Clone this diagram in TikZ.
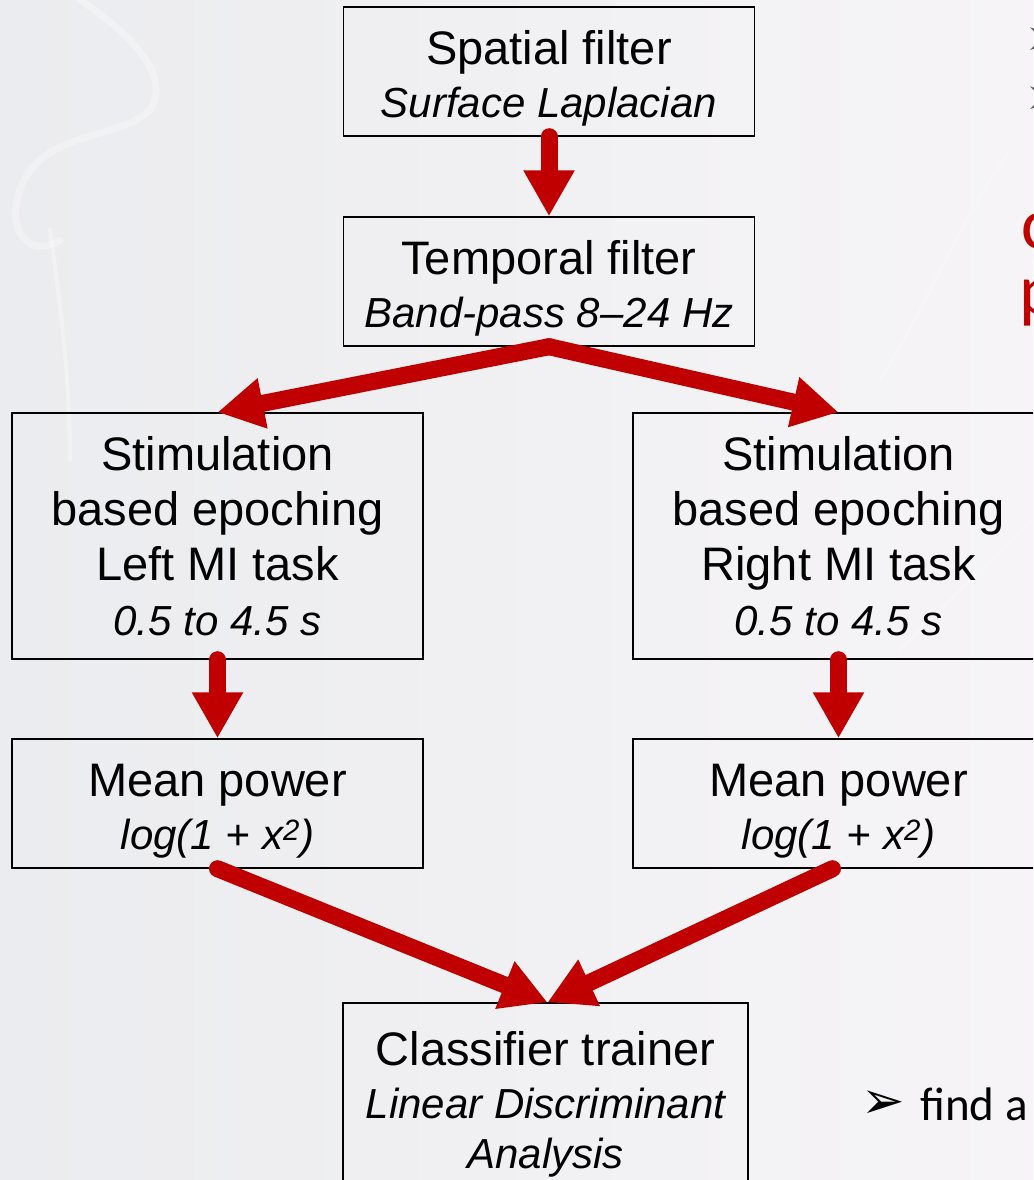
\documentclass[tikz,border=0pt]{standalone}
\usepackage{fontspec}
\setmainfont{Liberation Sans}
\newfontfamily\dejavufont{DejaVu Sans}
\newfontfamily\carlitofont{Carlito}
\usetikzlibrary{arrows.meta,calc}
\definecolor{arrowred}{HTML}{C00000}
\definecolor{bgleft}{HTML}{EBECEF}
\definecolor{bgright}{HTML}{F6F4F6}
\definecolor{bulletgrey}{HTML}{555555}
\newcommand\subtxt[1]{{\fontsize{42}{55}\selectfont\itshape #1}}
\newcommand\topstrut{\rule{0pt}{48pt}}
\begin{document}
\begin{tikzpicture}[x=1pt,y=-1pt,
  box/.style={draw=black, line width=1.4pt, inner sep=0pt, align=center,
    minimum width=411pt, font=\fontsize{47}{55}\selectfont},
  flow/.style={draw=arrowred, line width=17pt, line cap=round,
    -{Triangle[width=48pt,length=46pt]}},
  swirl/.style={draw=white, opacity=0.3, line width=7pt, line cap=round}]
\path[use as bounding box] (0,0) rectangle (1033,1180);
\clip (0,0) rectangle (1033,1180);
\shade[left color=bgleft, right color=bgright] (0,0) rectangle (1033,1180);
% faint background texture
\draw[swirl] (80,0) .. controls (140,40) and (170,80) .. (150,110) .. controls (120,140) and (40,130) .. (20,190) .. controls (5,230) and (30,260) .. (60,240);
\draw[swirl, line width=4pt] (50,230) .. controls (60,300) and (70,380) .. (70,460);
\draw[swirl, line width=3pt, opacity=0.2] (880,380) .. controls (930,300) and (960,220) .. (1010,150);
\draw[swirl, line width=3pt, opacity=0.2] (900,650) .. controls (950,600) and (990,560) .. (1033,520);

% boxes
\node[box, minimum height=129pt] (spatial) at (549,71.5) {\topstrut Spatial filter\\[-2pt] \subtxt{Surface Laplacian}};
\node[box, minimum height=129pt] (temporal) at (549,281.5) {\topstrut Temporal filter\\[-2pt] \subtxt{Band-pass 8–24 Hz}};
\node[box, minimum height=246pt] (lstim) at (217.5,536) {Stimulation\\ based epoching\\ Left MI task\\ \subtxt{0.5 to 4.5 s}};
\node[box, minimum height=246pt] (rstim) at (838.5,536) {Stimulation\\ based epoching\\ Right MI task\\ \subtxt{0.5 to 4.5 s}};
\node[box, minimum height=129pt] (lmean) at (217.5,803.5) {\topstrut Mean power\\[-2pt] \subtxt{log(1 + x\textsuperscript{2})}};
\node[box, minimum height=129pt] (rmean) at (838.5,803.5) {\topstrut Mean power\\[-2pt] \subtxt{log(1 + x\textsuperscript{2})}};
\node[box, minimum width=405pt, minimum height=188pt] (cls) at (545.5,1097) {\topstrut Classifier trainer\\[-2pt] \subtxt{Linear Discriminant}\\[-5pt] \subtxt{Analysis}};

% connectors
\draw[flow] (spatial.south) -- (temporal.north);
\draw[flow] (temporal.south) -- (lstim.north);
\draw[flow] (temporal.south) -- (rstim.north);
\draw[flow] (lstim.south) -- (lmean.north);
\draw[flow] (rstim.south) -- (rmean.north);
\draw[flow] (lmean.south) -- ($(cls.north)+(2,0)$);
\draw[flow] ($(rmean.south)+(-6,0)$) -- ($(cls.north)+(2,0)$);

% partial slide text at the right edge
\node[anchor=base west, inner sep=0pt, text=bulletgrey, font=\dejavufont\fontsize{52}{52}\selectfont] (b1) at (1024,56) {➢};
\node[anchor=base west, inner sep=0pt, text=bulletgrey, font=\dejavufont\fontsize{52}{52}\selectfont] (b2) at (1024,115) {➢};
\node[anchor=base west, inner sep=0pt, text=arrowred, font=\carlitofont\fontsize{72}{72}\selectfont] (r1) at (1021,248) {c};
\node[anchor=base west, inner sep=0pt, text=arrowred, font=\carlitofont\fontsize{72}{72}\selectfont] (r2) at (1019,314) {p};
\node[anchor=base west, inner sep=0pt, font=\dejavufont\fontsize{52}{52}\selectfont] (b3) at (861,1118) {➢};
\node[anchor=base west, inner sep=0pt, font=\carlitofont\fontsize{47}{47}\selectfont] (finda) at (920,1120) {find a};
\end{tikzpicture}
\end{document}
